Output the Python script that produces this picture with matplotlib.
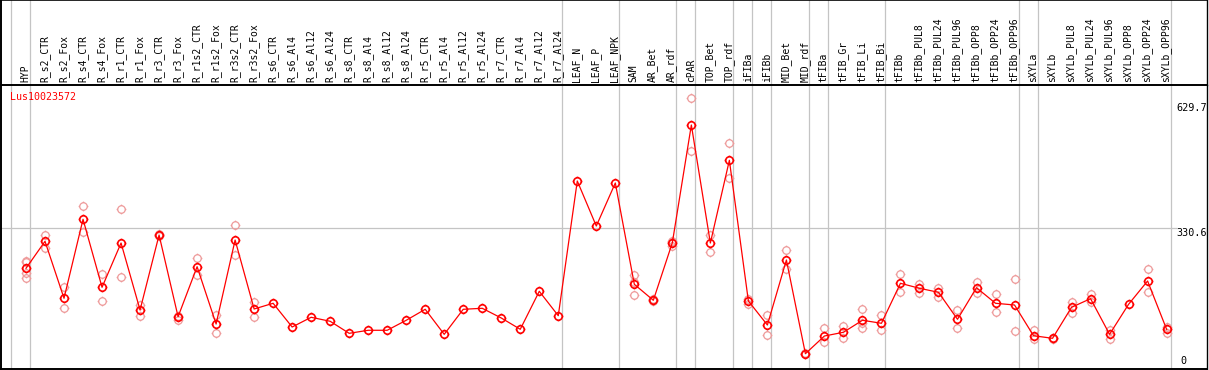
import matplotlib
matplotlib.use("Agg")
import matplotlib.pyplot as plt
import matplotlib.path as mpath

# ---------------- data ----------------
categories = [
    "HYP", "R_s2_CTR", "R_s2_Fox", "R_s4_CTR", "R_s4_Fox", "R_r1_CTR", "R_r1_Fox",
    "R_r3_CTR", "R_r3_Fox", "R_r1s2_CTR", "R_r1s2_Fox", "R_r3s2_CTR", "R_r3s2_Fox",
    "R_s6_CTR", "R_s6_Al4", "R_s6_Al12", "R_s6_Al24", "R_s8_CTR", "R_s8_Al4",
    "R_s8_Al12", "R_s8_Al24", "R_r5_CTR", "R_r5_Al4", "R_r5_Al12", "R_r5_Al24",
    "R_r7_CTR", "R_r7_Al4", "R_r7_Al12", "R_r7_Al24", "LEAF_N", "LEAF_P", "LEAF_NPK",
    "SAM", "AR_Bet", "AR_rdf", "cPAR", "TOP_Bet", "TOP_rdf", "iFIBa", "iFIBb",
    "MID_Bet", "MID_rdf", "tFIBa", "tFIB_Gr", "tFIB_Li", "tFIB_Bi", "tFIBb",
    "tFIBb_PUL8", "tFIBb_PUL24", "tFIBb_PUL96", "tFIBb_OPP8", "tFIBb_OPP24",
    "tFIBb_OPP96", "sXYLa", "sXYLb", "sXYLb_PUL8", "sXYLb_PUL24", "sXYLb_PUL96",
    "sXYLb_OPP8", "sXYLb_OPP24", "sXYLb_OPP96",
]

means = [
    238.6, 300.7, 169.6, 351.4, 194.9, 296.8, 142.7, 315.2, 127.2, 242.3, 110.4,
    303.7, 145.0, 158.1, 103.5, 125.9, 116.7, 89.0, 96.0, 96.0, 119.0, 144.3,
    86.7, 144.3, 146.6, 124.3, 98.3, 185.7, 129.5, 439.5, 335.9, 434.9, 201.8,
    165.0, 297.5, 568.3, 296.8, 487.1, 163.4, 108.1, 257.7, 42.1, 82.8, 91.4,
    119.0, 112.1, 204.1, 192.6, 183.4, 121.3, 194.0, 158.1, 154.2, 83.5, 77.5,
    148.9, 168.7, 86.7, 155.8, 209.4, 98.3,
]

replicates = [
    [255.4, 252.0, 228.0, 216.3], [315.2, 286.0], [196.3, 146.6], [382.0, 321.5],
    [224.8, 163.4], [374.4, 217.9], [154.2, 129.5], [317.5, 313.0], [129.5, 119.7],
    [261.6, 223.9], [131.2, 89.0], [338.2, 269.2], [161.8, 125.9],
    [], [], [], [], [], [], [], [], [], [], [], [], [], [], [], [], [], [], [],
    [223.2, 207.0, 176.5], [167.0, 163.0], [301.4, 300.0, 289.9],
    [629.7, 507.8], [315.2, 275.4], [526.3, 445.7], [167.3, 155.8], [130.5, 85.1],
    [280.7, 236.3], [43.5, 40.5], [100.6, 69.0], [105.8, 78.9], [144.3, 112.0, 101.9],
    [131.2, 96.0], [225.5, 183.4], [202.5, 182.5], [194.0, 173.3], [142.0, 100.6],
    [207.1, 182.5], [178.8, 137.4], [213.3, 94.3], [96.6, 75.2], [79.0, 76.0],
    [161.1, 136.4], [180.2, 160.4], [96.6, 75.9], [], [236.3, 183.4], [104.2, 89.0],
]

group_breaks = [-1, 0, 28, 31, 34, 35, 37, 38, 39, 41, 42, 45, 52, 53, 60]
title = "Lus10023572"
y_max_label = "629.7"
y_mid_value = 330.6
y_mid_label = "330.6"
y_min_label = "0"

# ---------------- figure ----------------
W, H = 1209, 370
fig = plt.figure(figsize=(W / 100, H / 100), dpi=100)
fig.patch.set_facecolor("white")

left_px, right_px = 1, 1207
head_top, head_bot = 0, 85
plot_bot = 369

ax_head = fig.add_axes([left_px / W, (H - head_bot) / H,
                        (right_px - left_px) / W, (head_bot - head_top) / H])
ax = fig.add_axes([left_px / W, (H - plot_bot) / H,
                   (right_px - left_px) / W, (plot_bot - head_bot) / H])

step = 19.01
x0 = 26.0
xlim = ((left_px - x0) / step, (right_px - x0) / step)
k = 2.301  # value units per pixel
ylim = ((372 - plot_bot) * k, (372 - head_bot) * k)

for a in (ax, ax_head):
    a.set_xlim(*xlim)
    a.set_xticks([])
    a.set_yticks([])
    for s in a.spines.values():
        s.set_color("black")
        s.set_linewidth(1.4)
    a.spines["right"].set_linewidth(1.0)
ax.set_ylim(*ylim)
ax_head.set_ylim(0, 1)
ax_head.spines["bottom"].set_visible(False)
ax_head.spines["top"].set_linewidth(1.2)

grid_c = "#c4c4c4"
off = 4.0 / step
for b in group_breaks:
    ax.axvline(b + off, color=grid_c, lw=0.9, zorder=1)
    ax_head.axvline(b + off, color=grid_c, lw=0.9, zorder=1)

# mid horizontal grid line, stops before right label
ax.hlines(y_mid_value, xlim[0], (1177 - x0) / step, color=grid_c, lw=0.9, zorder=1)

# custom marker: circle with small ticks
circ = mpath.Path.unit_circle()
verts = list(circ.vertices)
codes = list(circ.codes)
for dx, dy in [(1, 0), (-1, 0), (0, 1), (0, -1)]:
    verts += [(dx * 1.0, dy * 1.0), (dx * 1.3, dy * 1.3)]
    codes += [mpath.Path.MOVETO, mpath.Path.LINETO]
tick_circle = mpath.Path(verts, codes)

xs = list(range(len(categories)))

rx, ry = [], []
for i, reps in enumerate(replicates):
    for v in reps:
        rx.append(i)
        ry.append(v)
ax.plot(rx, ry, linestyle="none", marker=tick_circle, markersize=7.0,
        markerfacecolor="none", markeredgecolor="#ee9a9a", markeredgewidth=0.9,
        zorder=2)

ax.plot(xs, means, color="#ff0000", lw=0.9, zorder=3)
ax.plot(xs, means, linestyle="none", marker=tick_circle, markersize=7.0,
        markerfacecolor="none", markeredgecolor="#ff0000", markeredgewidth=1.2,
        zorder=4)

# header labels
for i, lab in enumerate(categories):
    ax_head.text(i - 0.03, (head_bot - 82.0) / head_bot, lab, rotation=90,
                 ha="center", va="bottom", fontsize=7,
                 family="DejaVu Sans Mono", color="black", zorder=5)

# title
ax.text((10 - left_px) / (right_px - left_px), (plot_bot - 97) / (plot_bot - head_bot),
        title, transform=ax.transAxes, ha="left", va="center", fontsize=7.2,
        family="DejaVu Sans Mono", color="#ff0000")

# right axis value labels
lx = (1176 - left_px) / (right_px - left_px)
ax.text(lx, (plot_bot - 103) / (plot_bot - head_bot), y_max_label, transform=ax.transAxes,
        ha="left", va="top", fontsize=7.3, family="DejaVu Sans Mono")
ax.text(lx, (plot_bot - 228) / (plot_bot - head_bot), y_mid_label, transform=ax.transAxes,
        ha="left", va="top", fontsize=7.3, family="DejaVu Sans Mono")
ax.text((1180 - left_px) / (right_px - left_px), (plot_bot - 366) / (plot_bot - head_bot),
        y_min_label, transform=ax.transAxes, ha="left", va="bottom", fontsize=7.3,
        family="DejaVu Sans Mono")

fig.savefig("out.png", dpi=100, facecolor="white")
